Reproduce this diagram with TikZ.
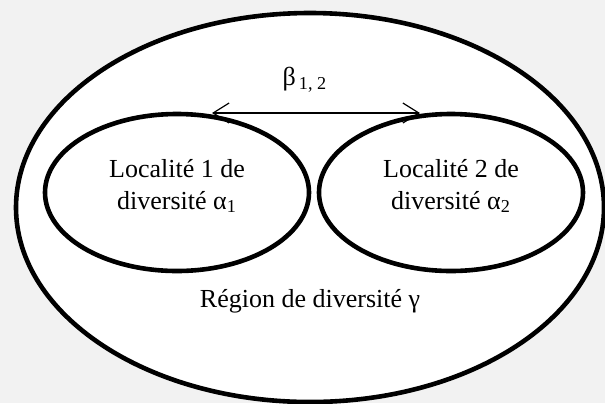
\documentclass[tikz,border=0pt]{standalone}
\usepackage{fontspec}
\setmainfont{Liberation Serif}
\usetikzlibrary{shapes.geometric,arrows.meta}

\begin{document}
\begin{tikzpicture}
  [x=0.5pt,y=-0.5pt]
      \tikzstyle{zone_style} = [draw=black, ellipse, line width=2.3pt, inner sep=0pt]
      \tikzstyle{text_style} = [align=center, font=\fontsize{13}{16}\selectfont]
      \tikzstyle{arrow_style} = [draw=black, line width=0.6pt, {Straight Barb[length=8pt,width=10pt]}-{Straight Barb[length=8pt,width=10pt]}]
  \fill[black!5] (0,0) rectangle (605,403);
  \useasboundingbox (0,0) rectangle (605,403);
  \node[zone_style, fill=white, minimum width=294pt, minimum height=194.5pt] (region) at (310,207.5) {};
  \coordinate (b1) at (212,113);
  \coordinate (b2) at (420,113);
  \draw[arrow_style] (b1) -- (b2);
  \node[zone_style, minimum width=132pt, minimum height=78.5pt] (loc1) at (177,192.5) {};
  \node[zone_style, minimum width=132pt, minimum height=78.5pt] (loc2) at (451,192.5) {};
  \node[text_style] (loc1text) at (177,186) {Localité 1 de\\diversité α\textsubscript{1}};
  \node[text_style] (loc2text) at (451,186) {Localité 2 de\\diversité α\textsubscript{2}};
  \node[text_style] (gamma) at (310,301) {Région de diversité γ};
  \node[text_style] (beta) at (305,80) {β\textsubscript{\,1, 2}};
\end{tikzpicture}
\end{document}
